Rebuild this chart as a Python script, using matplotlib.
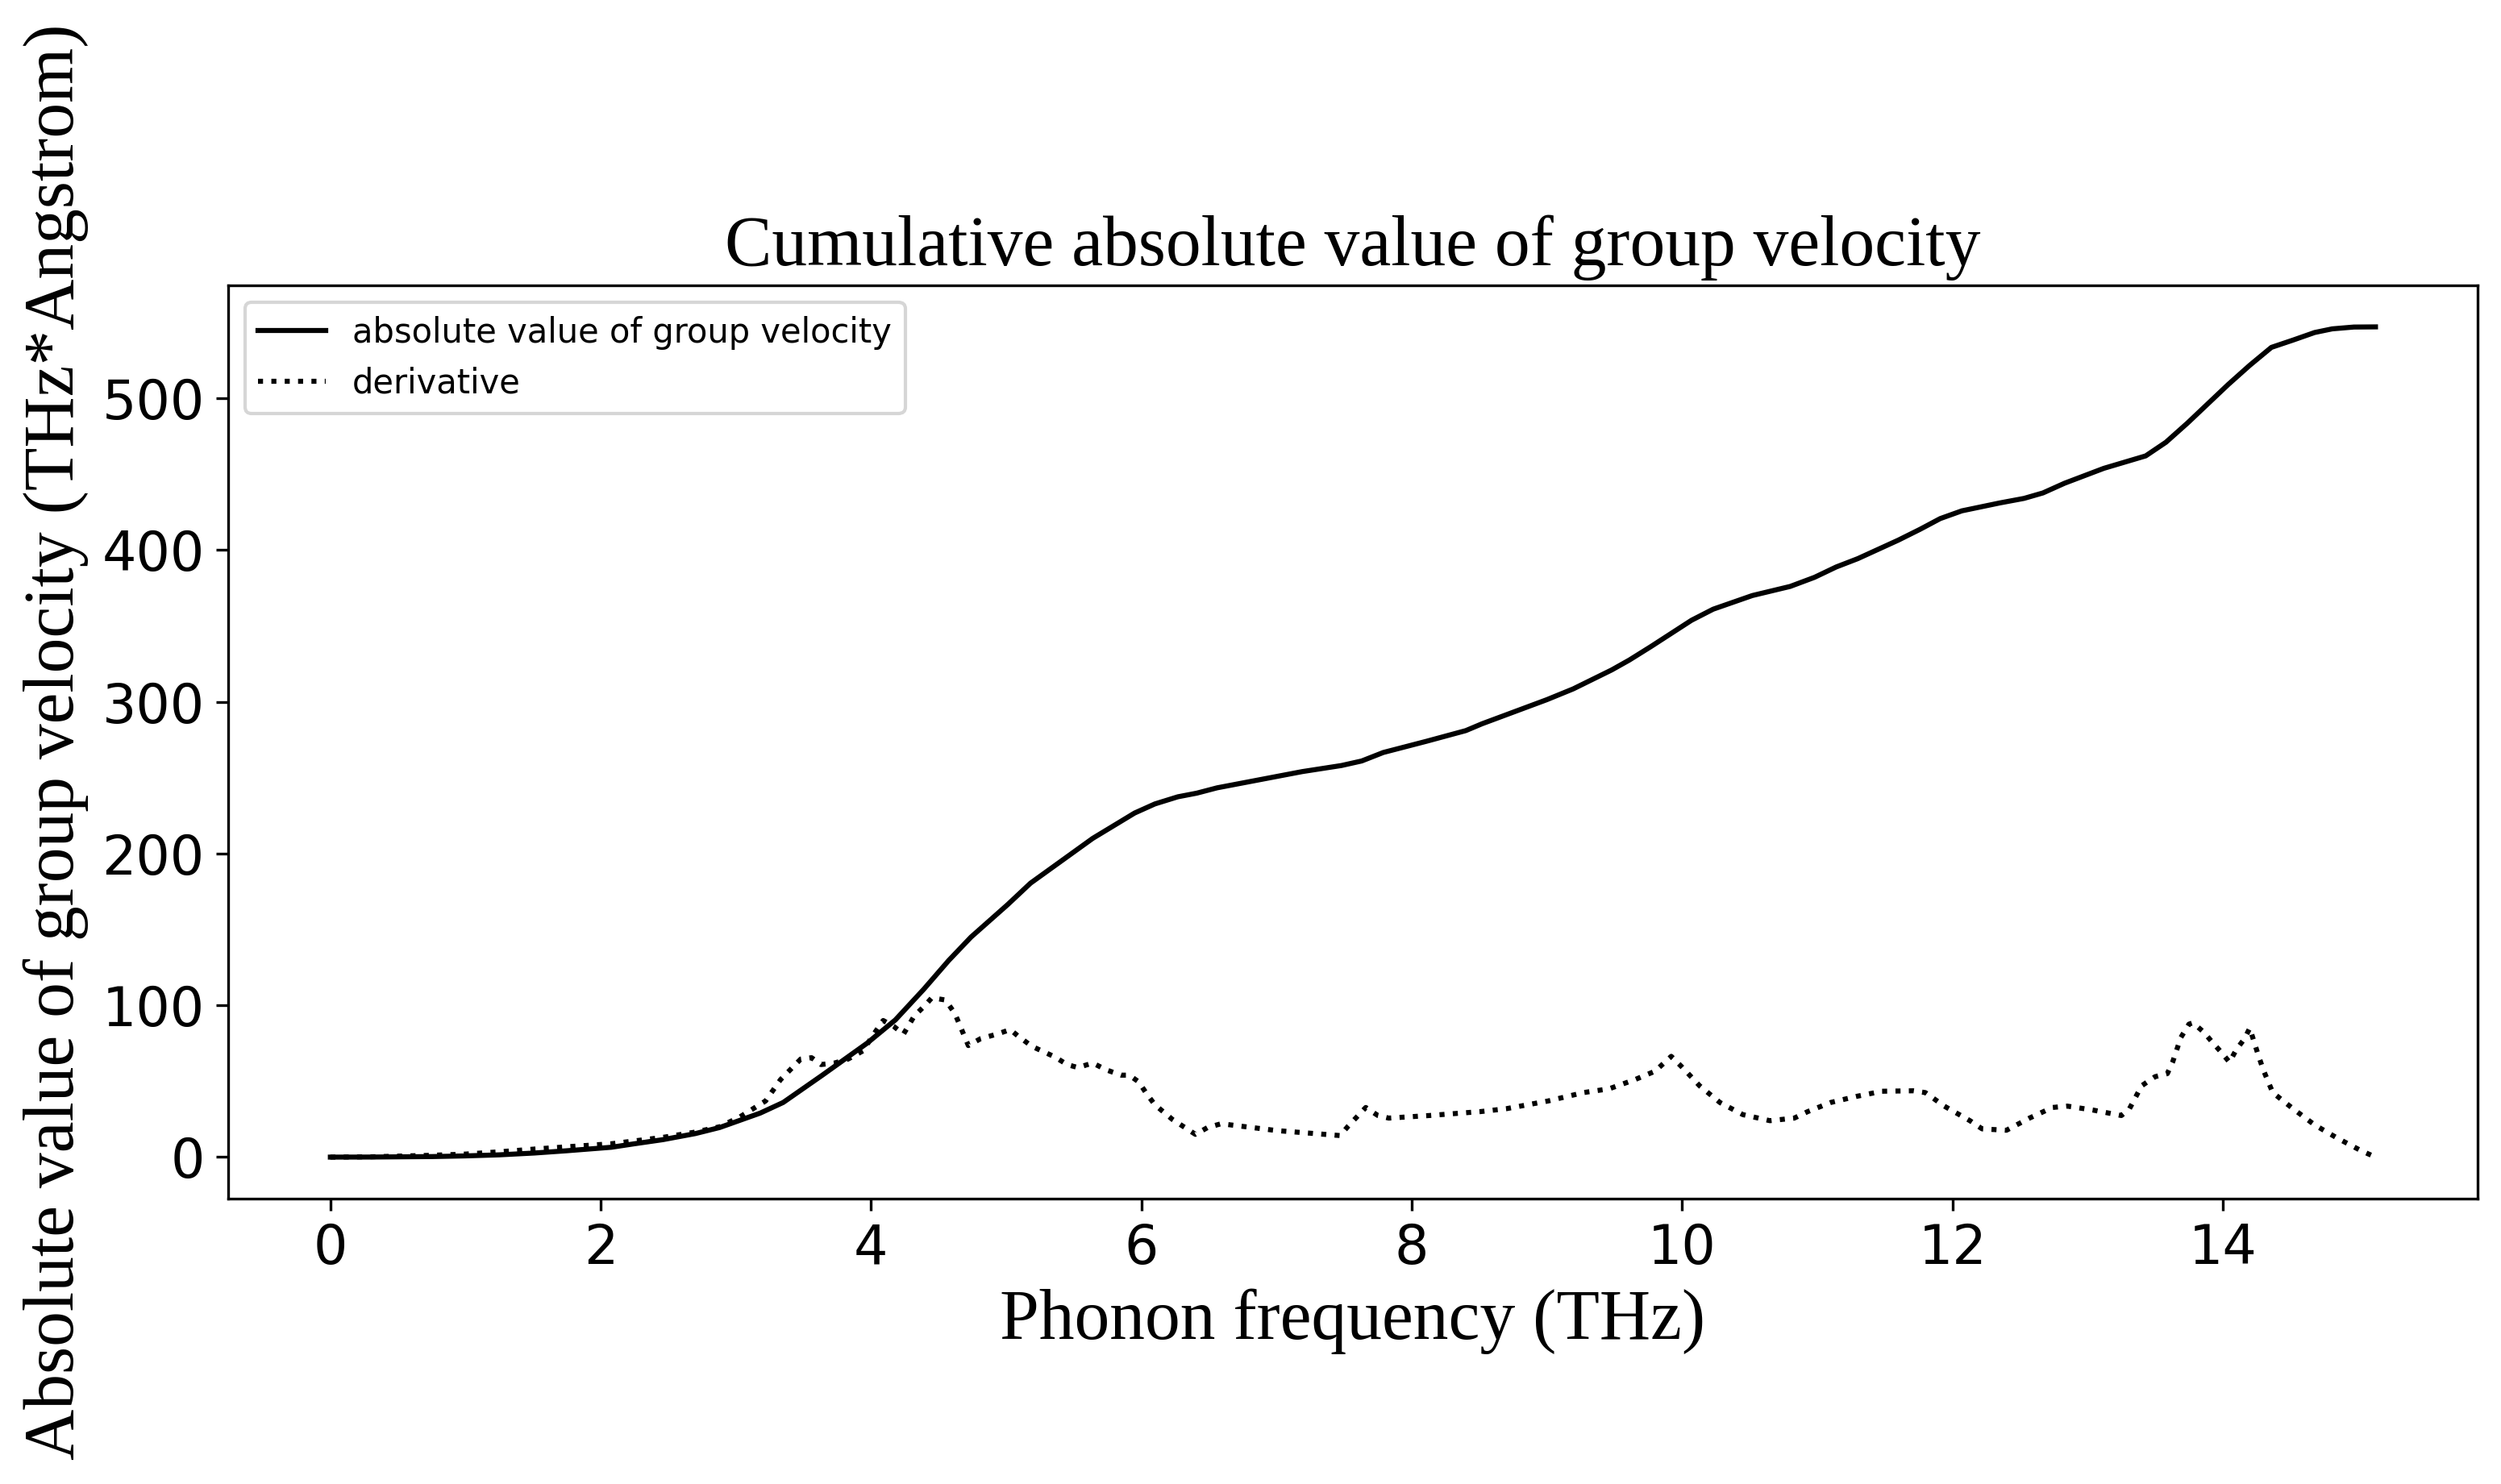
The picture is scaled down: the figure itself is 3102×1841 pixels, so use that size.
import numpy as np
import matplotlib
matplotlib.use('Agg')
import matplotlib.pyplot as plt

# cumulative |v_g|
freq_cum = [0, 0.3, 0.75, 1.0, 1.25, 1.51, 1.75, 2.08, 2.25, 2.46, 2.7, 2.88, 3.18, 3.35,
            3.64, 3.97, 4.18, 4.39, 4.575, 4.74, 5.01, 5.18, 5.64, 5.95, 6.10, 6.27,
            6.41, 6.56, 7.19, 7.48, 7.63, 7.79, 8.11, 8.40, 8.52, 9.0, 9.195, 9.48,
            9.61, 9.77, 10.07, 10.23, 10.52, 10.80, 10.98, 11.14, 11.30, 11.60, 11.76,
            11.91, 12.07, 12.35, 12.53, 12.67, 12.83, 13.12, 13.43, 13.58, 13.74,
            14.04, 14.20, 14.36, 14.52, 14.68, 14.81, 14.97, 15.13]
cum_vg = [0, 0.05, 0.35, 0.8, 1.5, 2.7, 4.2, 6.5, 8.8, 11.5, 15.5, 19.5, 29, 36,
          54, 75, 90.4, 110.6, 129.6, 145, 166.3, 180.5, 210, 226.7, 232.7, 237.4,
          239.8, 243.3, 254, 258, 261, 266.6, 274, 281, 285.5, 301.4, 308.5, 321,
          327.5, 336.4, 353.7, 361, 370, 376, 382, 388.8, 394.3, 406.5, 413.6,
          420.7, 425.8, 431, 434, 437.6, 444, 453.8, 462, 471, 483.7,
          509, 521.7, 533.5, 538.3, 543.3, 545.7, 546.9, 547]

# derivative (dotted)
freq_der = [0, 0.3, 0.75, 1.0, 1.25, 1.51, 1.75, 2.08, 2.46, 2.7, 2.88, 3.03, 3.22, 3.33,
            3.48, 3.56, 3.63, 3.73, 3.83, 3.94, 4.02, 4.09, 4.17, 4.24, 4.32, 4.40,
            4.45, 4.55, 4.62, 4.72, 4.81, 4.93, 5.03, 5.09, 5.19, 5.36, 5.45, 5.53,
            5.64, 5.74, 5.85, 5.91, 5.98, 6.04, 6.10, 6.23, 6.40, 6.49, 6.59, 7.0,
            7.47, 7.53, 7.66, 7.75, 7.83, 8.13, 8.51, 8.70, 9.01, 9.27, 9.46, 9.65,
            9.80, 9.92, 10.00, 10.13, 10.28, 10.45, 10.65, 10.83, 10.93, 11.10, 11.29,
            11.48, 11.71, 11.80, 11.94, 12.13, 12.22, 12.40, 12.57, 12.74, 12.85,
            13.04, 13.25, 13.31, 13.40, 13.50, 13.59, 13.63, 13.69, 13.75, 13.78,
            13.86, 13.92, 13.99, 14.05, 14.10, 14.16, 14.20, 14.26, 14.30, 14.37,
            14.52, 14.68, 14.85, 15.02, 15.13]
deriv = [0, 0.2, 1.2, 2, 3.5, 5.3, 6.8, 8.8, 13, 16.5, 20, 26.5, 37, 51,
         64.6, 65.5, 61, 62, 64.6, 70, 81, 90, 86, 81, 93, 100,
         105, 103.5, 94.7, 73.5, 78, 81, 84, 79.6, 73, 66, 61, 59,
         62, 57.5, 54, 54, 49.6, 41.6, 34.5, 24.8, 15, 19.5, 22, 17.5,
         14.2, 20.4, 32.7, 27.4, 25.7, 27.4, 30, 31.9, 37, 42.5, 45, 51,
         56.6, 66.4, 59.3, 47, 36, 28, 24, 25.7, 30, 36, 40,
         43.4, 43.7, 42.5, 33.6, 24, 18.6, 17.7, 25.7, 32.7, 33.6,
         31, 27.4, 31.9, 47, 53, 55, 62.8, 78.8, 87.6, 88.5,
         82.3, 76, 69, 62.5, 70.8, 77.9, 85, 68, 57.5, 42.5,
         31.9, 21.2, 12.4, 4.4, 0]

serif = ['Liberation Serif', 'DejaVu Serif']

fig = plt.figure(figsize=(3102 / 300, 1841 / 300), dpi=300)
ax = fig.add_axes([0.0912, 0.1923, 0.8995, 0.6154])

ax.plot(freq_cum, cum_vg, color='black', linestyle='-', label='absolute value of group velocity')
ax.plot(freq_der, deriv, color='black', linestyle=':', label='derivative')

ax.set_title('Cumulative absolute value of group velocity', fontsize=21, family=serif)
ax.set_xlabel('Phonon frequency (THz)', fontsize=21, family=serif)
ax.set_ylabel('Absolute value of group velocity (THz*Angstrom)', fontsize=21, family=serif)
ax.tick_params(labelsize=16)
ax.legend(loc='upper left', fontsize=10)

fig.savefig('out.png', dpi=300)
